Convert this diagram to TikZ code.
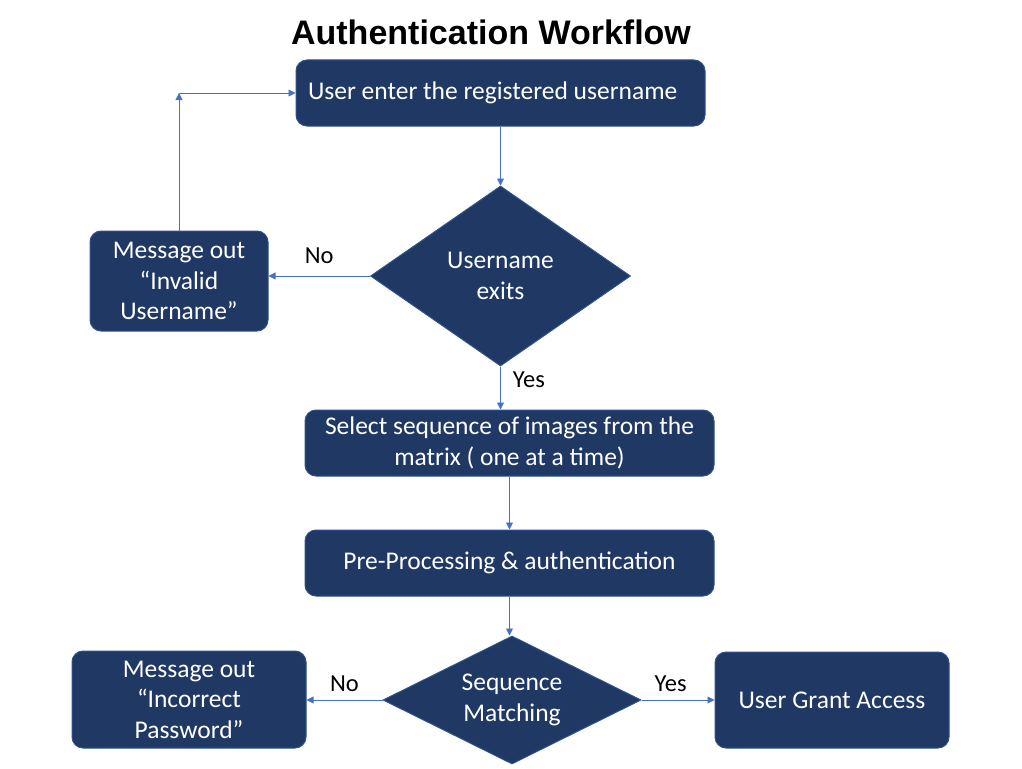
\documentclass[tikz,border=0pt]{standalone}
\usepackage{fontspec}
\setmainfont{Carlito}
\newfontfamily\titlefont{Liberation Sans}
\usepackage{xcolor}
\usepackage{tikz}
\usetikzlibrary{shapes,shapes.geometric,arrows.meta,positioning,calc}

\definecolor{boxfill}{HTML}{203864}
\definecolor{boxline}{HTML}{2F528F}
\definecolor{arrowblue}{HTML}{4472C4}

\tikzset{
    box/.style={draw=boxline, fill=boxfill, line width=1pt, rounded corners=11pt,
        text=white, align=center, inner sep=0pt, font=\fontsize{25.5}{30.5}\selectfont},
    decision/.style={diamond, aspect=2, draw=boxline, fill=boxfill, line width=1pt,
        text=white, align=center, inner sep=0pt, font=\fontsize{25.5}{30.5}\selectfont},
    flow/.style={draw=arrowblue, line width=0.9pt, -{Triangle[width=7pt,length=7pt]}},
    tag/.style={text=black, font=\fontsize{24.5}{29}\selectfont, inner sep=0pt}
}

\begin{document}
\begin{tikzpicture}[x=1pt, y=-1pt]
        \useasboundingbox (0,0) rectangle (1022,768);

        % Title
        \node[font=\titlefont\bfseries\fontsize{34}{40}\selectfont] (title) at (491,32) {Authentication Workflow};

        % Steps
        \node[box, minimum width=409, minimum height=66, text width=385pt, inner xsep=12pt, align=flush left] (enter) at (500.5,93) {User enter the registered username};
        \node[decision, minimum width=260, minimum height=180] (exists) at (500.5,276) {Username\\exits};
        \node[box, minimum width=178, minimum height=100] (invalid) at (179,281) {Message out\\``Invalid\\Username''};
        \node[box, minimum width=409, minimum height=66] (select) at (509.5,443) {Select sequence of images from the\\matrix ( one at a time)};
        \node[box, minimum width=409, minimum height=66] (preproc) at (509.5,563) {Pre-Processing \& authentication};
        \node[decision, minimum width=258, minimum height=128] (match) at (512,700) {Sequence\\Matching};
        \node[box, minimum width=234, minimum height=97] (incorrect) at (189,699.5) {Message out\\``Incorrect\\Password''};
        \node[box, minimum width=234, minimum height=96] (grant) at (832,700) {User Grant Access};

        % Connectors
        \draw[flow] (enter.south) -- (exists.north);
        \draw[flow] (exists.west) -- (exists.west -| invalid.east)
            node[tag, midway, above=12pt] (no1) {No};
        \coordinate (corner) at (invalid.north |- enter.west);
        \draw[flow] (invalid.north) -- (corner);
        \draw[flow] (corner) -- (enter.west);
        \draw[flow] (exists.south) -- (exists.south |- select.north)
            node[tag, pos=0.3, right=12pt] (yes1) {Yes};
        \draw[flow] (select.south) -- (preproc.north);
        \draw[flow] (preproc.south) -- (preproc.south |- match.north);
        \draw[flow] (match.west) -- (match.west -| incorrect.east)
            node[tag, midway, above=8pt] (no2) {No};
        \draw[flow] (match.east) -- (match.east -| grant.west)
            node[tag, pos=0.4, above=8pt] (yes2) {Yes};
    \end{tikzpicture}
\end{document}
